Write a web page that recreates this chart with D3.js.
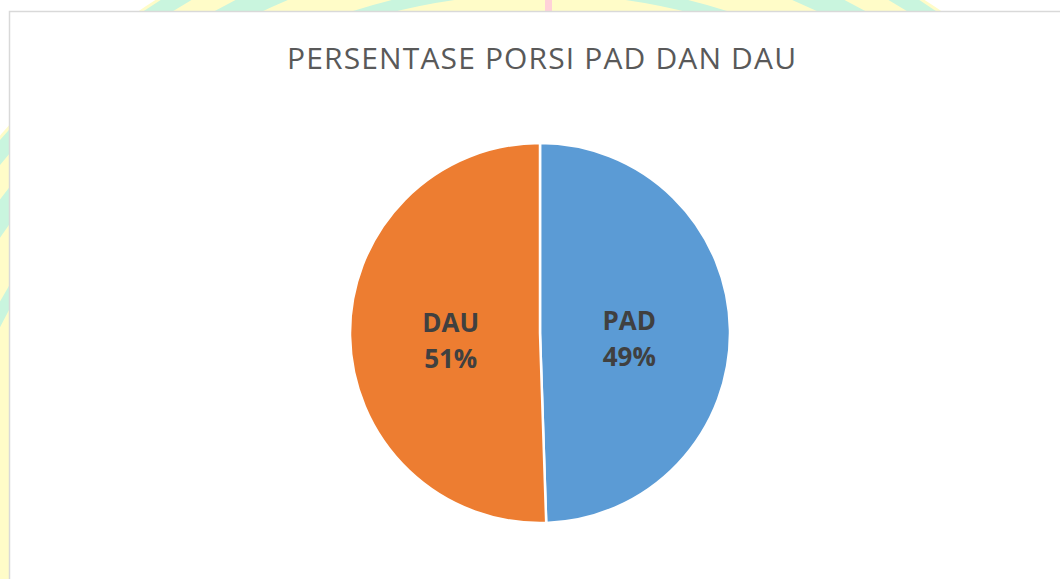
<!DOCTYPE html>
<html>
<head>
<meta charset="utf-8">
<script src="https://cdn.jsdelivr.net/npm/d3@7"></script>
<style>
  html, body { margin: 0; padding: 0; background: #fff; overflow: hidden; }
  svg { display: block; }
</style>
</head>
<body>
<svg id="chart"></svg>
<script>
// Pie chart: share of PAD vs DAU
const categories = ["PAD", "DAU"];
const shares = [49.48, 50.52];
const colors = ["#5B9BD5", "#ED7D31"];
const chartTitle = "PERSENTASE PORSI PAD DAN DAU";

const W = 1060;
const H = 579;
const svg = d3.select("#chart").attr("width", W).attr("height", H);

// watermark behind the chart card
const wm = svg.append("g");
wm.append("circle")
  .attr("cx", 540).attr("cy", 598).attr("r", 711)
  .attr("fill", "#fffcc8");
[[700, 16], [660, 22], [610, 12]].forEach(([r, w]) => {
  wm.append("circle")
    .attr("cx", 540).attr("cy", 598).attr("r", r)
    .attr("fill", "none")
    .attr("stroke", "#c9f5de")
    .attr("stroke-width", w);
});
wm.append("rect")
  .attr("x", 545).attr("y", 0).attr("width", 7).attr("height", 12)
  .attr("fill", "#ffd1d8");

// chart card
svg.append("rect")
  .attr("x", 9.5).attr("y", 11.5)
  .attr("width", W).attr("height", H)
  .attr("fill", "#fff")
  .attr("stroke", "#d9d9d9")
  .attr("stroke-width", 1.5);

svg.append("text")
  .attr("x", 541.5)
  .attr("y", 69)
  .attr("text-anchor", "middle")
  .attr("font-family", "'Open Sans', sans-serif")
  .attr("font-size", 30)
  .attr("font-weight", 400)
  .attr("fill", "#595959")
  .attr("textLength", 509)
  .attr("lengthAdjust", "spacing")
  .text(chartTitle);

const cx = 540, cy = 333, radius = 190;
const data = categories.map((c, i) => ({ name: c, value: shares[i], color: colors[i] }));

const pie = d3.pie().sort(null).value((d) => d.value);
const arc = d3.arc().innerRadius(0).outerRadius(radius);
const labelArc = d3.arc().innerRadius(radius * 0.47).outerRadius(radius * 0.47);
const total = d3.sum(shares);

const g = svg.append("g").attr("transform", `translate(${cx},${cy})`);

g.selectAll("path")
  .data(pie(data))
  .join("path")
  .attr("d", arc)
  .attr("fill", (d) => d.data.color)
  .attr("stroke", "#fff")
  .attr("stroke-width", 2.5)
  .attr("stroke-linejoin", "round");

const labels = g.selectAll("text.lbl")
  .data(pie(data))
  .join("text")
  .attr("class", "lbl")
  .attr("transform", (d) => `translate(${labelArc.centroid(d)})`)
  .attr("text-anchor", "middle")
  .attr("font-family", "'Open Sans', sans-serif")
  .attr("font-size", 26)
  .attr("font-weight", 700)
  .attr("fill", "#404040");

labels.append("tspan")
  .attr("x", 0).attr("y", -2)
  .text((d) => d.data.name);
labels.append("tspan")
  .attr("x", 0).attr("y", 34)
  .text((d) => Math.round((d.data.value / total) * 100) + "%");
</script>
</body>
</html>
